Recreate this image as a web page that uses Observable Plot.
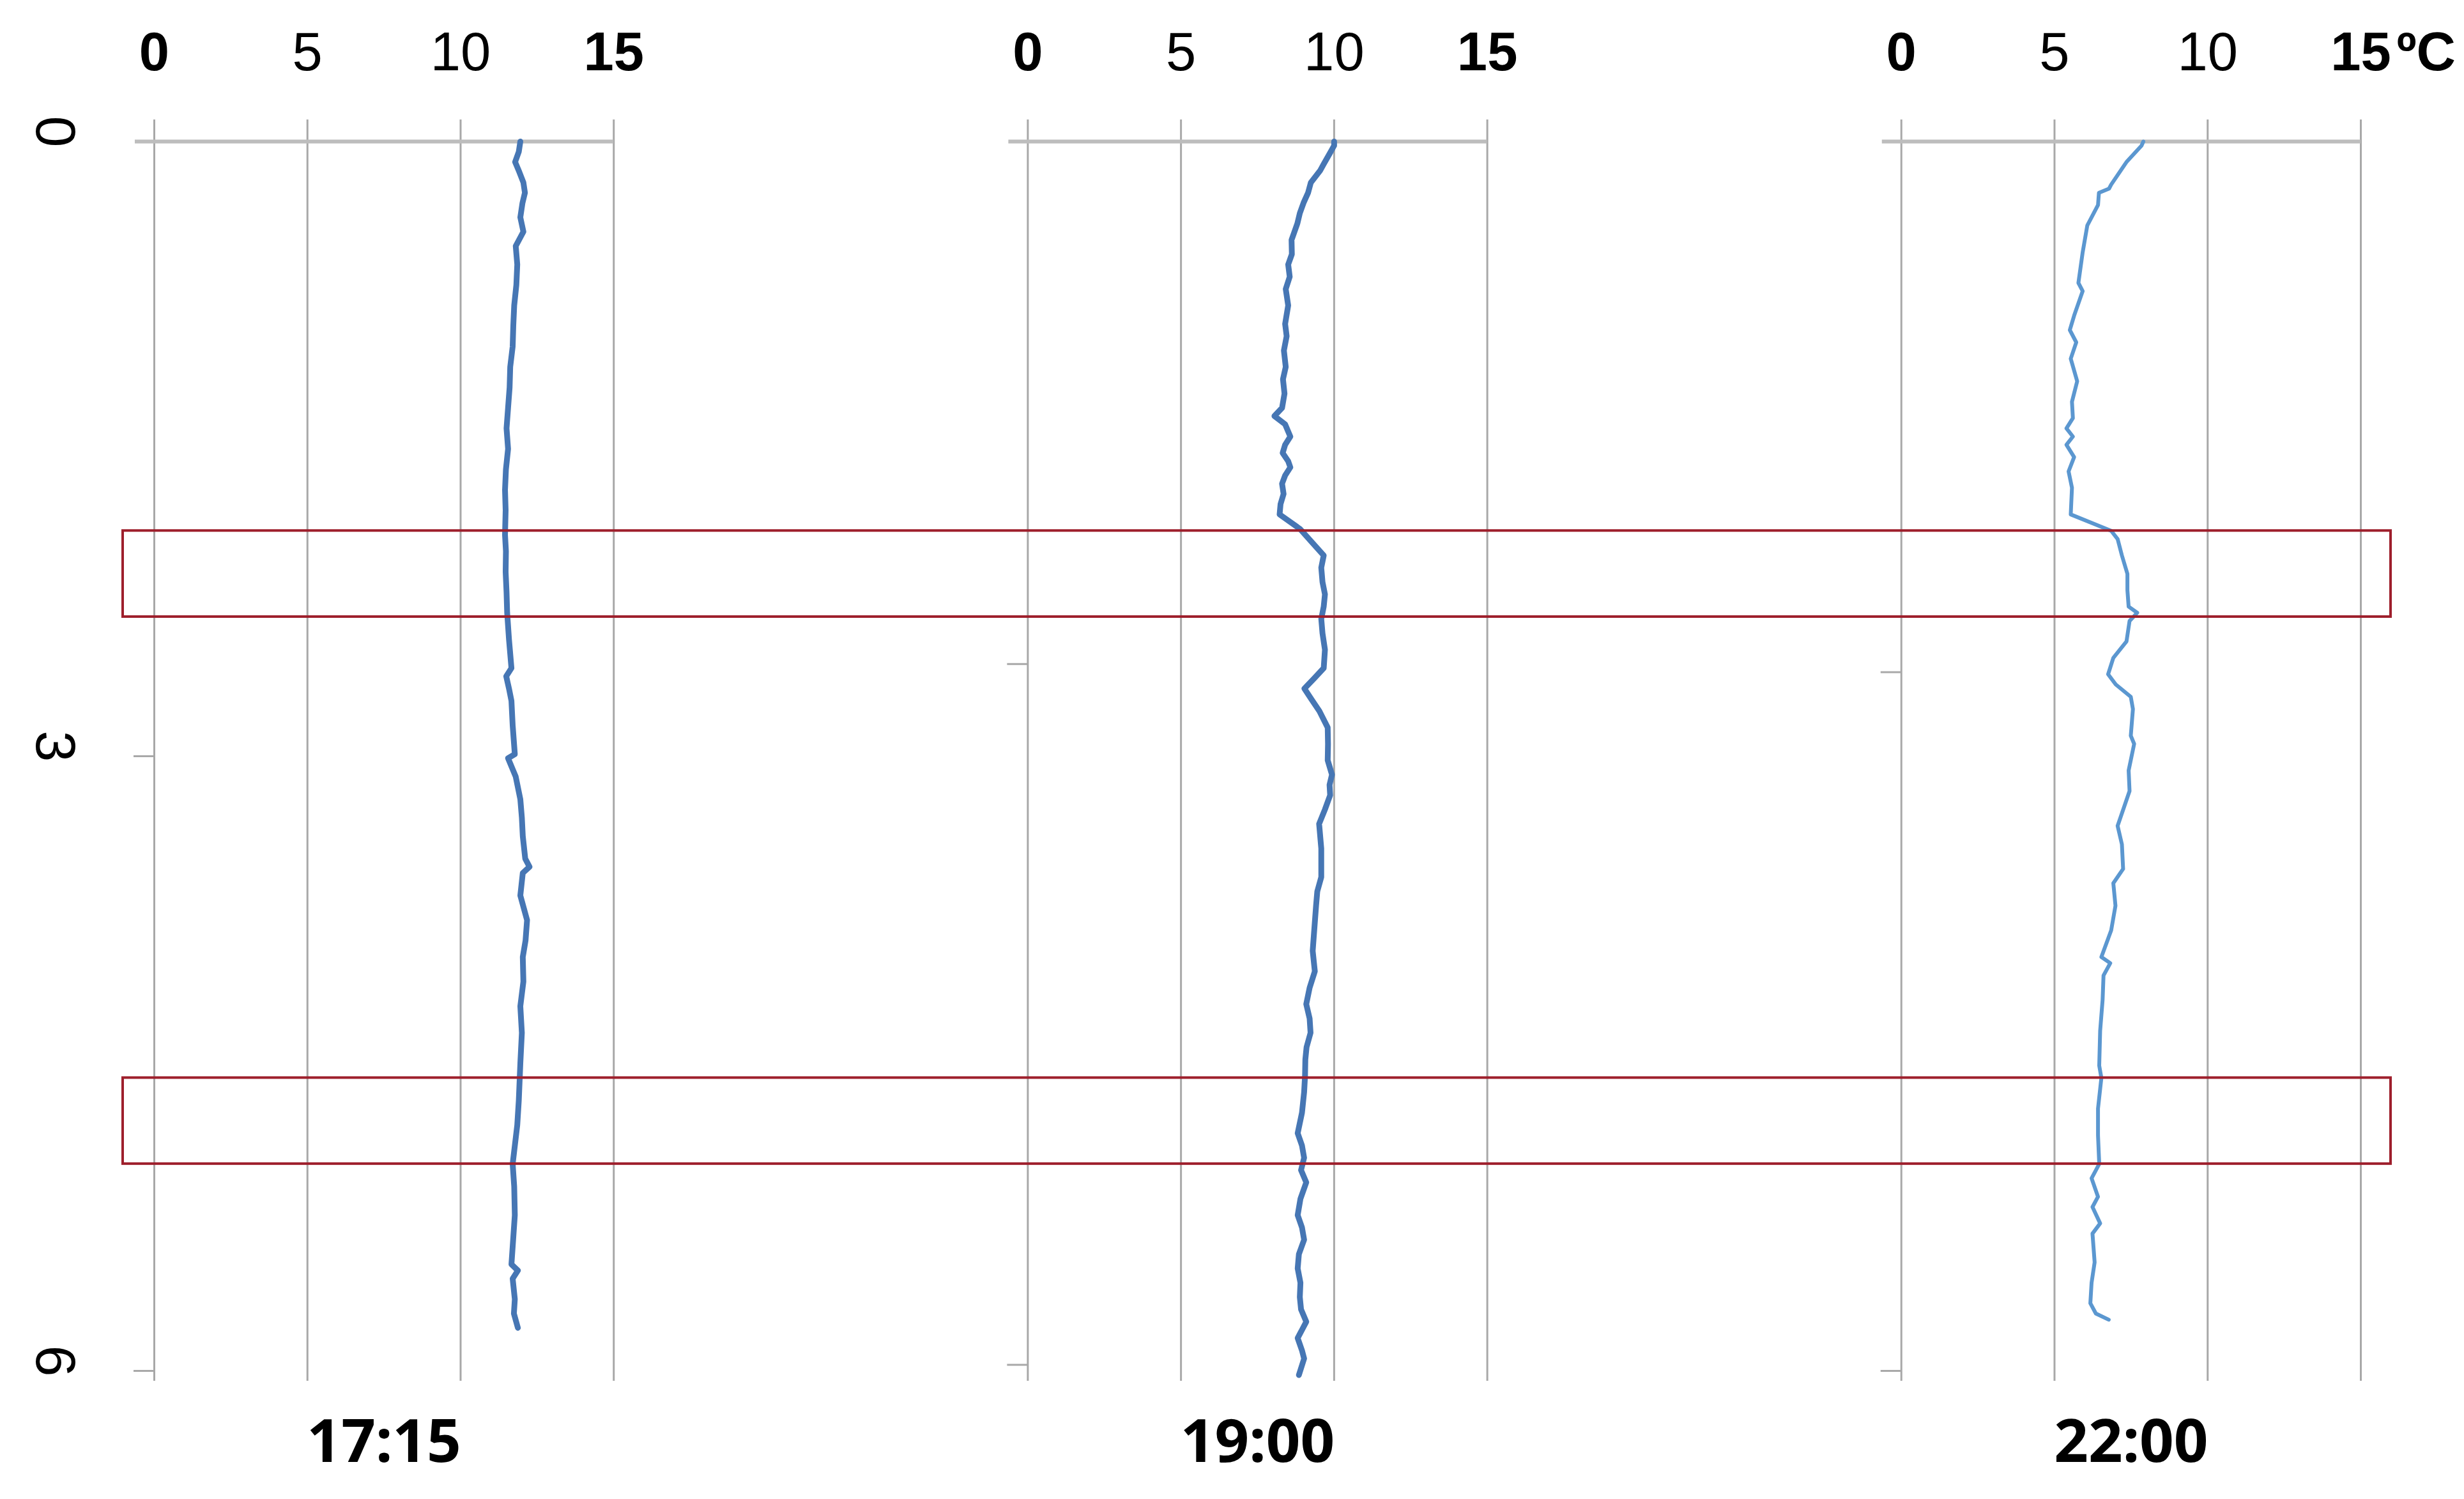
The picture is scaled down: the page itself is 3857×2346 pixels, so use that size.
<!DOCTYPE html>
<html>
<head>
<meta charset="utf-8">
<script src="https://cdn.jsdelivr.net/npm/d3@7"></script>
<script src="https://cdn.jsdelivr.net/npm/@observablehq/plot@0.6"></script>
<style>
  html, body { margin: 0; padding: 0; background: #ffffff; }
</style>
</head>
<body>
<div id="chart"></div>
<script>
// ---------- data ----------
const times = ["17:15", "19:00", "22:00"];

const depth1715 = [0.00,0.05,0.10,0.15,0.20,0.25,0.30,0.37,0.44,0.51,0.60,0.70,0.80,0.90,1.00,1.10,1.20,1.30,1.40,1.50,1.60,1.70,1.80,1.92,2.00,2.10,2.20,2.30,2.43,2.50,2.57,2.61,2.67,2.73,2.85,2.99,3.01,3.10,3.21,3.30,3.39,3.50,3.54,3.57,3.68,3.80,3.90,3.98,4.10,4.22,4.35,4.50,4.68,4.80,4.99,5.10,5.24,5.35,5.48,5.51,5.55,5.65,5.72,5.79];
const temp1715  = [11.95,11.90,11.78,11.92,12.05,12.10,12.02,11.95,12.05,11.80,11.85,11.82,11.75,11.72,11.70,11.62,11.60,11.55,11.50,11.55,11.48,11.45,11.47,11.45,11.48,11.47,11.50,11.52,11.58,11.62,11.66,11.49,11.58,11.66,11.70,11.77,11.55,11.80,11.95,12.00,12.03,12.11,12.25,12.03,11.95,12.17,12.12,12.03,12.05,11.95,12.00,11.95,11.90,11.85,11.70,11.75,11.77,11.72,11.66,11.87,11.70,11.77,11.74,11.87];

const depth1900 = [0.00,0.02,0.06,0.11,0.14,0.20,0.25,0.30,0.35,0.40,0.48,0.55,0.60,0.66,0.72,0.80,0.89,0.95,1.02,1.10,1.16,1.23,1.30,1.34,1.38,1.44,1.48,1.52,1.56,1.59,1.63,1.67,1.72,1.77,1.82,1.89,1.96,2.02,2.08,2.15,2.21,2.27,2.33,2.40,2.48,2.57,2.62,2.67,2.72,2.78,2.86,2.94,3.02,3.09,3.14,3.19,3.26,3.33,3.45,3.59,3.66,3.73,3.85,3.95,4.05,4.13,4.21,4.28,4.35,4.42,4.48,4.56,4.64,4.74,4.84,4.90,4.96,5.02,5.08,5.16,5.24,5.30,5.36,5.43,5.50,5.57,5.64,5.70,5.76,5.84,5.90,5.94,6.02];
const temp1900  = [10.00,10.00,9.85,9.66,9.55,9.24,9.15,9.00,8.88,8.80,8.61,8.62,8.50,8.55,8.42,8.50,8.40,8.45,8.36,8.42,8.33,8.38,8.30,8.05,8.40,8.57,8.40,8.32,8.50,8.57,8.40,8.30,8.35,8.25,8.22,8.88,9.30,9.66,9.58,9.62,9.70,9.66,9.58,9.62,9.70,9.66,9.35,9.03,9.25,9.52,9.79,9.80,9.79,9.93,9.85,9.87,9.70,9.51,9.58,9.58,9.45,9.41,9.35,9.30,9.37,9.20,9.09,9.20,9.23,9.10,9.06,9.05,9.02,8.95,8.81,8.95,9.02,8.92,9.09,8.90,8.81,8.95,9.02,8.85,8.81,8.90,8.88,8.92,9.09,8.81,8.95,9.02,8.85];

const depth2200 = [0.00,0.02,0.10,0.21,0.23,0.25,0.31,0.41,0.54,0.69,0.73,0.85,0.92,0.98,1.06,1.17,1.27,1.35,1.40,1.44,1.48,1.54,1.61,1.69,1.82,1.90,1.94,2.02,2.11,2.19,2.27,2.30,2.34,2.44,2.52,2.60,2.65,2.71,2.77,2.90,2.94,3.07,3.17,3.34,3.43,3.55,3.62,3.73,3.85,3.98,4.01,4.07,4.19,4.34,4.51,4.57,4.72,4.85,4.99,5.06,5.15,5.20,5.28,5.33,5.47,5.57,5.67,5.72,5.75];
const temp2200  = [7.90,7.84,7.35,6.85,6.78,6.45,6.42,6.07,5.92,5.78,5.92,5.64,5.50,5.71,5.53,5.74,5.57,5.60,5.39,5.60,5.39,5.64,5.46,5.57,5.53,6.85,7.06,7.20,7.38,7.38,7.42,7.70,7.45,7.35,6.92,6.75,7.00,7.49,7.56,7.49,7.60,7.42,7.45,7.06,7.20,7.24,6.92,6.99,6.85,6.53,6.82,6.60,6.57,6.49,6.46,6.53,6.42,6.42,6.46,6.21,6.42,6.24,6.49,6.24,6.31,6.21,6.17,6.35,6.77];

const tempTicks     = [0, 5, 10, 15];
const boldTempTicks = [0, 15];
const depthTicks    = [0, 3, 6];          // labelled depth ticks (left panel)
const depthTickMarks1715 = [3, 6];
const depthTickMarks1900 = [2.55, 5.97];
const depthTickMarks2200 = [2.59, 6.0];
const bandTops    = [1.90, 4.57];         // highlighted depth layers (m)
const bandBottoms = [2.32, 4.99];
const unitLabel = "ºC";

// ---------- tables ----------
function rowsFor(time, ds, ts) {
  const n = Math.min(ds.length, ts.length);
  return d3.range(n).map(i => ({time, depth: ds[i], temp: ts[i]}));
}
const profiles12 = [...rowsFor(times[0], depth1715, temp1715), ...rowsFor(times[1], depth1900, temp1900)];
const profiles3  = rowsFor(times[2], depth2200, temp2200);

const tickMarkRows = [
  ...depthTickMarks1715.map(d => ({time: times[0], depth: d})),
  ...depthTickMarks1900.map(d => ({time: times[1], depth: d})),
  ...depthTickMarks2200.map(d => ({time: times[2], depth: d}))
];
const depthLabelRows = depthTicks.map(d => ({time: times[0], depth: d}));
const lastTime = times[times.length - 1];
const bandRows = bandTops.map((t, i) => ({time: lastTime, top: t, bottom: bandBottoms[i]}));
const unitRows = [{time: lastTime, temp: tempTicks[tempTicks.length - 1]}];

// ---------- layout ----------
const W = 3857, H = 2346;
const mLeft = 241, mRight = 162, mTop = 187, mBottom = 185;
const padInner = 0.474;
const step = (W - mLeft - mRight) / (times.length - padInner);

const FONT = "'Liberation Sans', Arial, Helvetica, sans-serif";
const GRID = "#a8a8a8";

const chart = Plot.plot({
  width: W,
  height: H,
  marginLeft: mLeft,
  marginRight: mRight,
  marginTop: mTop,
  marginBottom: mBottom,
  style: {fontFamily: FONT, background: "#ffffff", color: "#000"},
  fx: {domain: times, paddingInner: padInner, paddingOuter: 0, round: false, axis: null, label: null},
  x: {domain: [0, 15], axis: null, label: null},
  y: {domain: [0, 6], reverse: true, insetTop: 34, insetBottom: 16, axis: null, label: null},
  marks: [
    // vertical gridlines
    Plot.gridX(tempTicks, {stroke: GRID, strokeOpacity: 1, strokeWidth: 3}),
    // depth-0 axis line (top)
    Plot.ruleY([0], {stroke: "#bdbdbd", strokeWidth: 6, insetLeft: -30}),
    // small depth tick marks on the left of each panel
    Plot.ruleY(tickMarkRows, {fx: "time", y: "depth", x1: () => 0, x2: () => 0, insetLeft: -32, stroke: GRID, strokeWidth: 3}),
    // depth labels, rotated, left panel only
    Plot.text(depthLabelRows, {fx: "time", y: "depth", text: d => String(d.depth), frameAnchor: "left", dx: -156, dy: -40, rotate: 90, fontSize: 88, fill: "#000"}),
    // temperature tick labels at top
    Plot.text(tempTicks.filter(t => boldTempTicks.includes(t)), {x: d => d, text: d => String(d), frameAnchor: "top", dy: -138, fontSize: 85, fontWeight: "bold", fill: "#000"}),
    Plot.text(tempTicks.filter(t => !boldTempTicks.includes(t)), {x: d => d, text: d => String(d), frameAnchor: "top", dy: -138, fontSize: 85, fontWeight: "normal", fill: "#000"}),
    Plot.text(unitRows, {fx: "time", x: "temp", text: () => unitLabel, frameAnchor: "top", dy: -138, dx: 56, textAnchor: "start", fontSize: 85, fontWeight: "bold", fill: "#000"}),
    // profiles
    Plot.line(profiles12, {fx: "time", x: "temp", y: "depth", z: "time", stroke: "#4676b4", strokeWidth: 9, strokeLinejoin: "round", strokeLinecap: "round", curve: "linear"}),
    Plot.line(profiles3, {fx: "time", x: "temp", y: "depth", stroke: "#5b97d0", strokeWidth: 6, strokeLinejoin: "round", strokeLinecap: "round", curve: "linear"}),
    // time labels at bottom
    Plot.text(times, {fx: d => d, text: d => d, frameAnchor: "bottom", dy: 126, fontSize: 94, fontWeight: "bold", fontFamily: "'Noto Sans', 'Liberation Sans', sans-serif", fill: "#000"}),
    // highlighted depth bands spanning all panels
    Plot.rect(bandRows, {fx: "time", y1: "top", y2: "bottom", fill: "none", stroke: "#9e1f2c", strokeWidth: 4, insetLeft: -(2 * step + 49), insetRight: -47})
  ]
});

document.getElementById("chart").appendChild(chart);
</script>
</body>
</html>
